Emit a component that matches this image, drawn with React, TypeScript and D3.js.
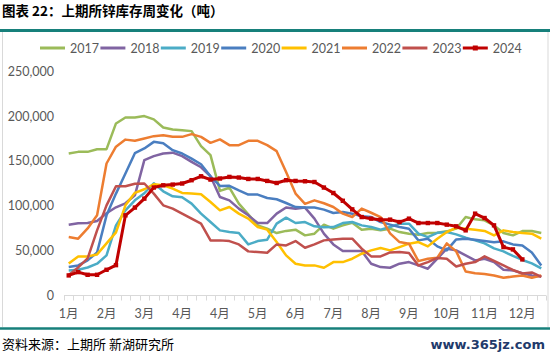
import React from "react";
import * as d3 from "d3";

const W = 550;
const H = 356;

const years = ["2017", "2018", "2019", "2020", "2021", "2022", "2023", "2024"];
const colors = ["#9BBB59", "#8064A2", "#4BACC6", "#4A7EC0", "#FFC000", "#ED7D31", "#C0504D", "#C00000"];

const monthLabels = ["1月", "2月", "3月", "4月", "4月", "5月", "6月", "7月", "8月", "9月", "10月", "11月", "12月"];
const yTicks = [0, 50000, 100000, 150000, 200000, 250000];

const s2017 = [158300, 160100, 160100, 163100, 163100, 191900, 198600, 198600, 200100, 196400, 187400, 185200, 184400, 183300, 166500, 156400, 116400, 120000, 102200, 90200, 77900, 74200, 69300, 71700, 73100, 66700, 68600, 78700, 74200, 77900, 80900, 73100, 74200, 72300, 74200, 70400, 68600, 67500, 69300, 69700, 71200, 74200, 87200, 84600, 83500, 77900, 69300, 66700, 71500, 71500, 69300];
const s2018 = [78500, 80200, 80500, 82700, 91400, 98100, 102600, 111500, 150800, 155300, 158300, 159200, 155300, 148900, 142900, 132800, 109600, 105900, 96600, 89100, 80500, 80500, 91000, 97800, 96600, 97800, 85400, 68600, 56600, 49100, 49100, 49100, 35000, 31200, 30500, 35000, 36800, 33100, 29400, 40600, 51800, 49900, 44300, 38700, 40600, 36800, 28200, 27500, 24400, 21900, 20700];
const s2019 = [27500, 28200, 30800, 35000, 44300, 77900, 94700, 105900, 113800, 125000, 116000, 110400, 109300, 102200, 91000, 81600, 72300, 70400, 69300, 56600, 60300, 61900, 79800, 86500, 80500, 81600, 76800, 75700, 76000, 80500, 81600, 77900, 76000, 73100, 76000, 79800, 79800, 68600, 64800, 69500, 70400, 67800, 64000, 61100, 57700, 52100, 48800, 43700, 39200, 35300, 29700];
const s2020 = [31400, 33100, 38700, 47600, 89100, 113400, 135900, 158600, 163900, 171300, 169800, 162000, 158300, 152500, 146300, 132800, 122000, 122200, 117100, 112300, 112300, 108500, 107100, 102900, 98400, 97800, 97800, 95500, 91700, 92800, 91000, 88000, 87200, 81600, 78700, 76000, 74200, 61100, 63000, 54400, 49900, 62200, 63000, 61900, 60500, 58900, 60000, 56600, 55500, 47600, 33100];
const s2021 = [35300, 43200, 43200, 45400, 57700, 70100, 100300, 114300, 118300, 123900, 122700, 119100, 114100, 113400, 112700, 104000, 94700, 98400, 91000, 85400, 76000, 73100, 59200, 44300, 35000, 33100, 33100, 30500, 36800, 36800, 40600, 46200, 49900, 52500, 49900, 53600, 57400, 59200, 54400, 63000, 70400, 75300, 74200, 73100, 71700, 66700, 72300, 70400, 69300, 68600, 63000];
const s2022 = [64800, 63000, 74500, 89100, 147100, 165900, 173800, 172600, 175100, 177700, 178800, 176900, 176900, 179900, 176900, 170200, 174000, 167600, 167600, 172400, 172400, 167600, 160900, 137700, 113400, 102000, 105900, 102600, 98400, 91000, 87200, 96600, 92000, 87200, 68900, 59200, 57400, 37900, 40600, 41700, 57700, 48800, 26300, 24400, 23500, 21900, 19300, 20700, 21900, 19300, 21900];
const s2023 = [22400, 30800, 40900, 72300, 100300, 121600, 121600, 124400, 124700, 113400, 100300, 96600, 91000, 85400, 79800, 61100, 61100, 60300, 56600, 48800, 48000, 47300, 56600, 55500, 60300, 52900, 56600, 61100, 62200, 62800, 63000, 51800, 43200, 43200, 47600, 48000, 46900, 33100, 36800, 41500, 40600, 31900, 35000, 36800, 43200, 38100, 33100, 28000, 24100, 25200, 20200];
const s2024 = [21900, 25600, 22600, 22600, 28200, 33400, 89100, 97800, 107800, 120200, 122700, 123500, 124700, 128400, 132800, 129100, 130300, 132100, 131400, 129800, 129800, 127600, 125300, 128400, 127600, 127200, 126400, 120200, 114100, 105400, 95800, 87200, 85400, 84300, 84300, 81600, 85400, 80500, 80500, 80500, 78700, 76800, 72300, 91000, 86100, 77900, 53600, 51000, 39800];

const series = [s2017, s2018, s2019, s2020, s2021, s2022, s2023, s2024];
const nCat = 51;

export default function App() {
  const x = d3.scaleBand<number>().domain(d3.range(nCat)).range([64, 546]).paddingInner(0).paddingOuter(0);
  const y = d3.scaleLinear().domain([0, 250000]).range([295, 71.5]);
  const bw = x.bandwidth();
  const cx = (i: number) => (x(i) as number) + bw / 2;
  const line = d3
    .line<number>()
    .x((_, i) => cx(i))
    .y((d) => y(d));
  const fmt = d3.format(",");
  const font = "Lato, 'Noto Sans CJK SC', sans-serif";
  const legendStart = 40;
  const legendStep = 60.4;

  return (
    <svg width={W} height={H} style={{ position: "absolute", left: 0, top: 0, background: "#fff" }}>
      <rect x={0} y={0} width={W} height={H} fill="#fff" />
      <text x={2} y={16} fontFamily="'Noto Sans CJK SC', sans-serif" fontWeight={700} fontSize={13.5} fill="#000">
        图表 22：上期所锌库存周变化（吨）
      </text>
      <line x1={0} x2={W} y1={30.5} y2={30.5} stroke="#17807B" strokeWidth={3} />
      <line x1={2.5} x2={2.5} y1={32} y2={327} stroke="#D9D9D9" strokeWidth={1} />
      <line x1={548} x2={548} y1={32} y2={327} stroke="#D9D9D9" strokeWidth={1} />
      <line x1={0} x2={W} y1={328.5} y2={328.5} stroke="#17807B" strokeWidth={2.5} />

      {/* legend */}
      {years.map((yr, k) => {
        const lx = legendStart + k * legendStep;
        return (
          <g key={yr}>
            <line x1={lx} x2={lx + 25} y1={48} y2={48} stroke={colors[k]} strokeWidth={3} />
            {k === 7 && <rect x={lx + 12.5 - 2.5} y={45.5} width={5} height={5} fill={colors[k]} />}
            <text x={lx + 30} y={52.5} fontFamily={font} fontSize={12.5} fill="#595959">
              {yr}
            </text>
          </g>
        );
      })}

      {/* y axis labels */}
      {yTicks.map((t) => (
        <text key={t} x={54} y={y(t) + 4.5} textAnchor="end" fontFamily={font} fontSize={12.5} fill="#595959">
          {fmt(t)}
        </text>
      ))}

      {/* x axis */}
      <line x1={64} x2={546} y1={295.5} y2={295.5} stroke="#D9D9D9" strokeWidth={1} />
      {d3.range(nCat + 1).map((i) => {
        const tx = Math.round(64 + i * bw) + 0.5;
        return <line key={i} x1={tx} x2={tx} y1={295.5} y2={300.5} stroke="#D9D9D9" strokeWidth={1} />;
      })}
      {monthLabels.map((m, k) => (
        <text key={k} x={cx(k * 4)} y={317.5} textAnchor="middle" fontFamily={font} fontSize={12.5} fill="#595959">
          {m}
        </text>
      ))}

      {/* series */}
      {series.map((s, k) => (
        <path key={years[k]} d={line(s) || ""} fill="none" stroke={colors[k]} strokeWidth={k === 7 ? 3 : 2.5} strokeLinejoin="round" />
      ))}
      {s2024.map((v, i) => (
        <rect key={i} x={cx(i) - 2.2} y={y(v) - 2.2} width={4.4} height={4.4} fill={colors[7]} />
      ))}

      <text x={2} y={349} fontFamily="'Noto Sans CJK SC', serif" fontSize={13} fill="#000">
        资料来源：上期所 新湖研究所
      </text>
      <text x={545} y={349} textAnchor="end" fontFamily="'DejaVu Sans', sans-serif" fontWeight={700} fontSize={13} fill="#1F3A6B">
        www.365jz.com
      </text>
    </svg>
  );
}
